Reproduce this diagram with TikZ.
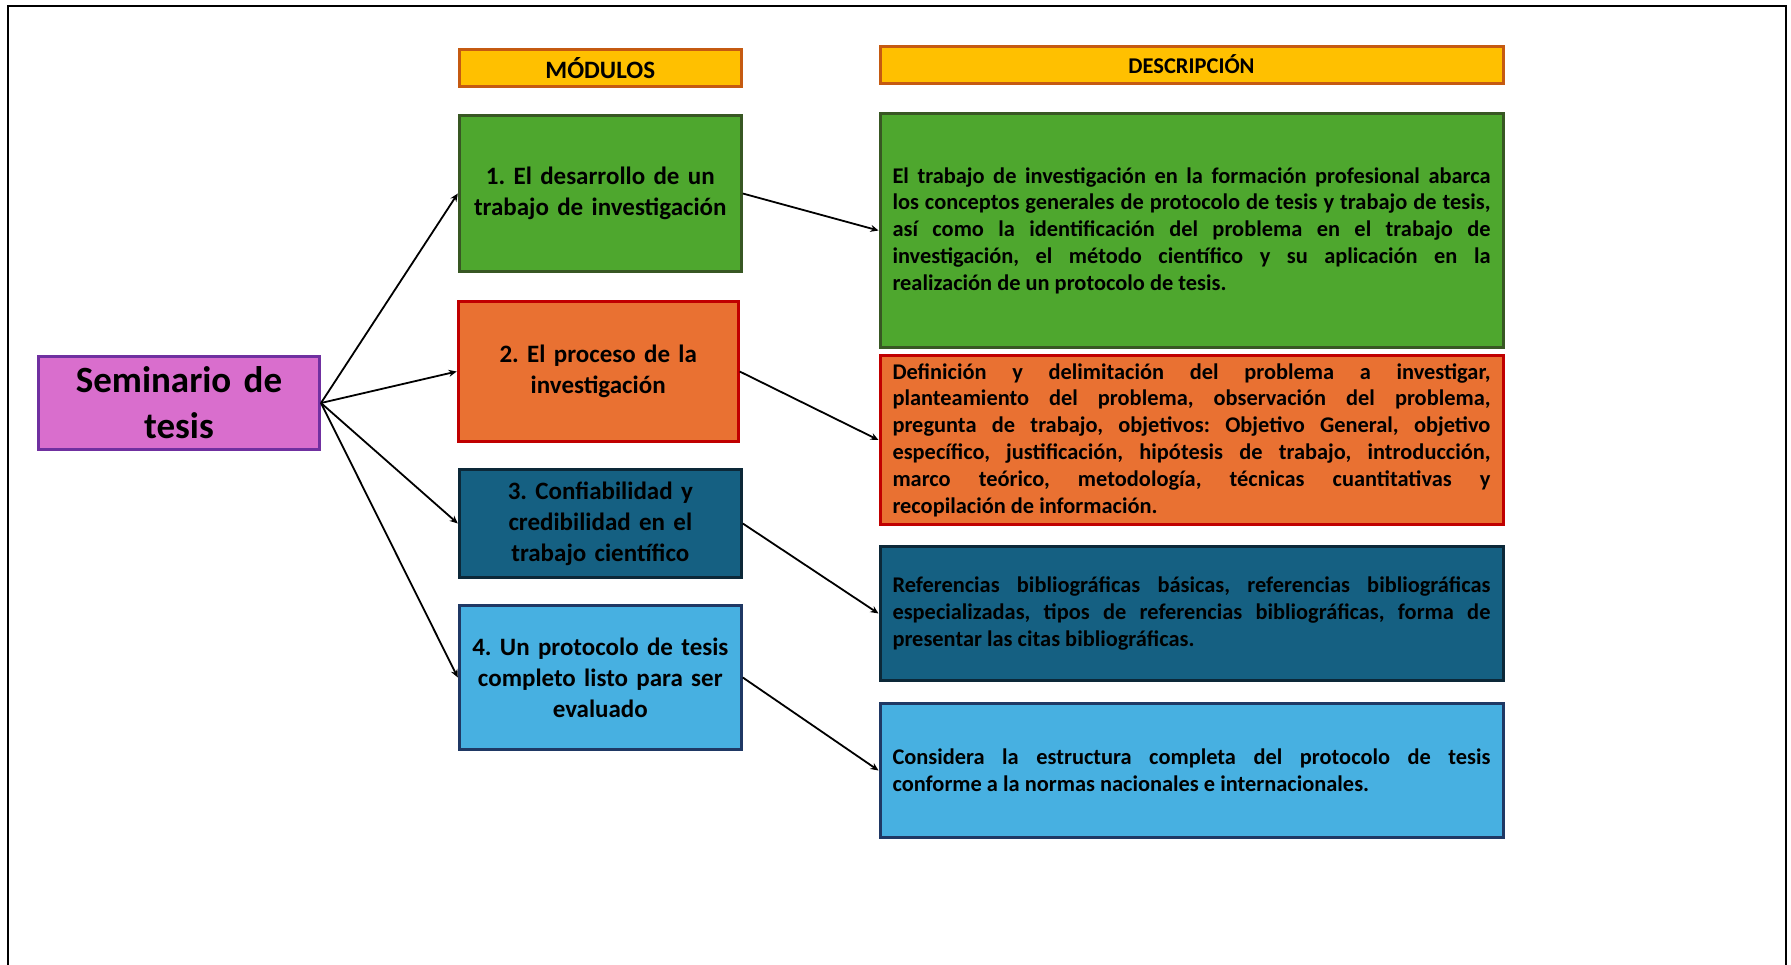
\documentclass[tikz,border=0pt]{standalone}
\usepackage{fontspec}
\setmainfont{Carlito}
\usetikzlibrary{arrows.meta}
\definecolor{hdrfill}{RGB}{255,192,0}
\definecolor{hdrline}{RGB}{197,90,17}
\definecolor{gfill}{RGB}{78,167,46}
\definecolor{gline}{RGB}{56,87,35}
\definecolor{ofill}{RGB}{233,113,50}
\definecolor{oline}{RGB}{192,0,0}
\definecolor{dbfill}{RGB}{21,96,130}
\definecolor{dbline}{RGB}{12,40,56}
\definecolor{lbfill}{RGB}{71,176,225}
\definecolor{lbline}{RGB}{31,56,100}
\definecolor{pfill}{RGB}{217,110,205}
\definecolor{pline}{RGB}{112,48,160}
\tikzset{
  box/.style={draw, line width=3pt, inner sep=0pt, font=\bfseries},
  modbox/.style={box, minimum width=282pt, text width=276pt, align=center,
    font=\fontsize{25}{31}\selectfont\bfseries},
  descbox/.style={box, minimum width=623pt, text width=598pt, align=justify,
    font=\fontsize{22.4}{26.8}\selectfont\bfseries},
  hdr/.style={box, fill=hdrfill, draw=hdrline, minimum height=37pt},
  conn/.style={line width=1.8pt, -{Stealth[length=8pt,width=7pt]}}
}
\begin{document}
\frenchspacing
\begin{tikzpicture}[x=1pt,y=-1pt]
\useasboundingbox (0,0) rectangle (1791,964);
\draw[line width=2pt] (8,970) -- (8,6) -- (1786,6) -- (1786,970);

\node[hdr, minimum width=282pt, font=\fontsize{25}{28}\selectfont\bfseries] (hm) at (600.3,68) {MÓDULOS};
\node[hdr, minimum width=623pt, font=\fontsize{22.5}{26}\selectfont\bfseries] (hd) at (1191.5,64.5) {DESCRIPCIÓN};

\node[box, fill=pfill, draw=pline, minimum width=281pt, minimum height=93pt,
  text width=276pt, align=center, font=\fontsize{37}{46}\selectfont\bfseries]
  (sem) at (179,403) {Seminario de\\tesis};

\node[modbox, fill=gfill, draw=gline, minimum height=156pt] (m1) at (600.3,193.5)
  {1. El desarrollo de un\\trabajo de investigación};
\node[modbox, fill=ofill, draw=oline, minimum width=280pt, minimum height=140pt] (m2) at (598.2,371.5)
  {2. El proceso de la\\investigación};
\node[modbox, fill=dbfill, draw=dbline, minimum height=108pt] (m3) at (600.3,523.5)
  {3. Confiabilidad y\\credibilidad en el\\trabajo científico};
\node[modbox, fill=lbfill, draw=lbline, minimum height=144pt] (m4) at (600.3,677.5)
  {4. Un protocolo de tesis\\completo listo para ser\\evaluado};

\node[descbox, fill=gfill, draw=gline, minimum height=234pt] (d1) at (1191.5,230.5)
  {\tolerance=10000\hbadness=10000 El trabajo de investigación en la formación profesional abarca\linebreak
   los conceptos generales de protocolo de tesis y trabajo de tesis,\linebreak
   así como la identificación del problema en el trabajo de\linebreak
   investigación, el método científico y su aplicación en la\linebreak
   realización de un protocolo de tesis.};
\node[descbox, fill=ofill, draw=oline, minimum height=169pt] (d2) at (1191.5,440)
  {\tolerance=10000\hbadness=10000 Definición y delimitación del problema a investigar,\linebreak
   planteamiento del problema, observación del problema,\linebreak
   pregunta de trabajo, objetivos: Objetivo General, objetivo\linebreak
   específico, justificación, hipótesis de trabajo, introducción,\linebreak
   marco teórico, metodología, técnicas cuantitativas y\linebreak
   recopilación de información.};
\node[descbox, fill=dbfill, draw=dbline, minimum height=134pt] (d3) at (1191.5,613.5)
  {\tolerance=10000\hbadness=10000 Referencias bibliográficas básicas, referencias bibliográficas\linebreak
   especializadas, tipos de referencias bibliográficas, forma de\linebreak
   presentar las citas bibliográficas.};
\node[descbox, fill=lbfill, draw=lbline, minimum height=134pt] (d4) at (1191.5,770.5)
  {\tolerance=10000\hbadness=10000 Considera la estructura completa del protocolo de tesis\linebreak
   conforme a la normas nacionales e internacionales.};

\draw[conn] (sem.east) -- (m1.west);
\draw[conn] (sem.east) -- (m2.west);
\draw[conn] (sem.east) -- (m3.west);
\draw[conn] (sem.east) -- (m4.west);
\draw[conn] (m1.east) -- (d1.west);
\draw[conn] (m2.east) -- (d2.west);
\draw[conn] (m3.east) -- (d3.west);
\draw[conn] (m4.east) -- (d4.west);
\end{tikzpicture}
\end{document}
